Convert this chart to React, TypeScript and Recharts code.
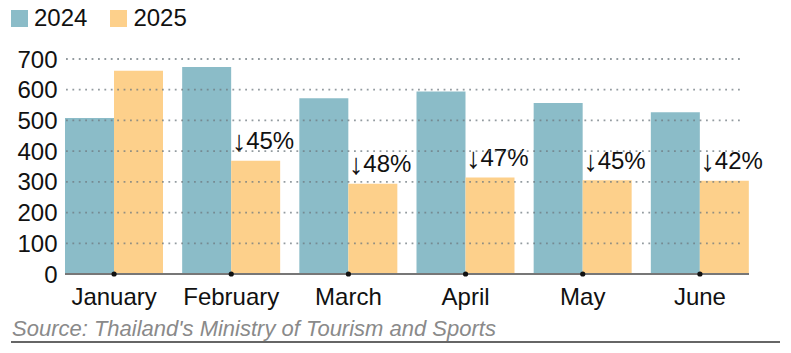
import React from 'react';
import { BarChart, Bar, XAxis, YAxis, ReferenceLine, LabelList } from 'recharts';

const months = ['January', 'February', 'March', 'April', 'May', 'June'];
const values2024 = [508, 674, 572, 594, 557, 527];
const values2025 = [662, 369, 294, 314, 305, 304];
const changeLabels = ['', '45%', '48%', '47%', '45%', '42%'];
const yTicks = [0, 100, 200, 300, 400, 500, 600, 700];

const COLOR_2024 = '#8bbcc8';
const COLOR_2025 = '#fdd08b';
const FONT = '"Liberation Sans", Arial, sans-serif';

const data = months.map((m, i) => ({
  month: m,
  y2024: values2024[i],
  y2025: values2025[i],
  change: changeLabels[i],
}));

const CHART_W = 791;
const CHART_H = 353;
const MARGIN = { top: 59, right: 42, bottom: 39, left: 0 };

const MonthTick = (props: any) => {
  const { x, y, payload } = props;
  return (
    <g>
      <circle cx={x} cy={y} r={2.6} fill="#111" />
      <text x={x} y={y + 30.5} textAnchor="middle" fontSize={24} fontFamily={FONT} fill="#111">
        {payload.value}
      </text>
    </g>
  );
};

const ChangeLabel = (props: any) => {
  const { x, y, value } = props;
  if (!value) return null;
  return (
    <text x={x + 0.5} y={y - 11.5} fontSize={24} fontFamily={FONT} fill="#111">
      <tspan fontSize={29} dy={2}>↓</tspan>
      <tspan dy={-2}>{value}</tspan>
    </text>
  );
};

const DottedGrid = (props: any) => {
  const { x1, x2, y1 } = props;
  const left = Math.min(x1, x2);
  const right = Math.max(x1, x2);
  return (
    <line x1={left + 1} x2={right - 6} y1={y1} y2={y1} stroke="#6f7a80" strokeWidth={1.8} strokeDasharray="1.8 4.6" />
  );
};

// same axes in both layers so the overlay grid lines up with the bars
const axes = (visible: boolean) => [
  <XAxis
    key="x"
    dataKey="month"
    height={40}
    padding={{ left: -9.5, right: -9.5 }}
    tickSize={0}
    tickMargin={0}
    tickLine={false}
    axisLine={visible ? { stroke: '#777', strokeWidth: 2 } : false}
    tick={visible ? <MonthTick /> : false}
    interval={0}
  />,
  <YAxis
    key="y"
    width={65}
    domain={[0, 700]}
    ticks={yTicks}
    interval={0}
    tickSize={0}
    tickMargin={7.5}
    tickLine={false}
    axisLine={false}
    tick={visible ? { fontSize: 24, fill: '#111', fontFamily: FONT } : false}
  />,
];

export default function App() {
  return (
    <div style={{ position: 'absolute', left: 0, top: 0, width: CHART_W, height: CHART_H, background: '#fff', fontFamily: FONT }}>
      <div style={{ position: 'absolute', left: 11, top: 4, display: 'flex', alignItems: 'center', fontSize: 24, color: '#111' }}>
        <span style={{ width: 17, height: 17, background: COLOR_2024, display: 'inline-block', marginRight: 6 }} />
        <span style={{ marginRight: 23 }}>2024</span>
        <span style={{ width: 17, height: 17, background: COLOR_2025, display: 'inline-block', marginRight: 6 }} />
        <span>2025</span>
      </div>
      <div style={{ position: 'absolute', left: 0, top: 0 }}>
        <BarChart width={CHART_W} height={CHART_H} data={data} margin={MARGIN} barGap={0} barCategoryGap={9.5}>
          {axes(true)}
          <Bar dataKey="y2024" fill={COLOR_2024} isAnimationActive={false} />
          <Bar dataKey="y2025" fill={COLOR_2025} isAnimationActive={false}>
            <LabelList dataKey="change" content={<ChangeLabel />} />
          </Bar>
        </BarChart>
      </div>
      <div style={{ position: 'absolute', left: 0, top: 0, zIndex: 2, pointerEvents: 'none', opacity: 0.75 }}>
        <BarChart width={CHART_W} height={CHART_H} data={data} margin={MARGIN} barGap={0} barCategoryGap={9.5}>
          {axes(false)}
          <Bar dataKey="y2024" fill="transparent" fillOpacity={0} isAnimationActive={false} />
          <Bar dataKey="y2025" fill="transparent" fillOpacity={0} isAnimationActive={false} />
          {yTicks.slice(1).map((v) => (
            <ReferenceLine key={v} y={v} shape={<DottedGrid />} />
          ))}
        </BarChart>
      </div>
      <div
        style={{
          position: 'absolute',
          left: 12,
          top: 316,
          fontSize: 22,
          fontStyle: 'italic',
          color: '#8a8a8a',
          lineHeight: '25px',
        }}
      >
        Source: Thailand's Ministry of Tourism and Sports
      </div>
      <div style={{ position: 'absolute', left: 11, top: 341, width: 769, height: 1.5, background: '#666' }} />
    </div>
  );
}
